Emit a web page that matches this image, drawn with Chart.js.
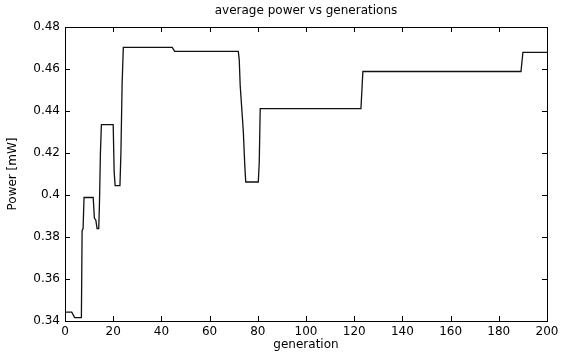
<!DOCTYPE html>
<html>
<head>
<meta charset="utf-8">
<title>average power vs generations</title>
<script src="https://cdn.jsdelivr.net/npm/chart.js@4.4.1/dist/chart.umd.min.js"></script>
<style>
  html, body { margin: 0; padding: 0; background: #fff; }
  #wrap { width: 569px; height: 353px; }
</style>
</head>
<body>
<div id="wrap"><canvas id="powerChart"></canvas></div>
<script>
// Datos (generación, potencia media)
const generaciones = [0, 2.8, 4.0, 6.8, 7.1, 7.5, 7.9, 11.7, 12.2, 12.8, 13.3, 14.0, 14.3, 14.7, 15.1,
  20.0, 20.4, 20.8, 22.8, 23.2, 23.7, 24.2, 44.5, 45.5, 71.9, 72.3, 72.7, 73.3, 74.0, 74.6, 75.0,
  80.2, 80.6, 81.0, 122.8, 123.6, 189.2, 190.0, 200];
const potencia = [0.3442, 0.3442, 0.3416, 0.3416, 0.383, 0.384, 0.3988, 0.3988, 0.389, 0.388, 0.384, 0.384, 0.396, 0.420, 0.4335,
  0.4335, 0.411, 0.4045, 0.4045, 0.420, 0.453, 0.4703, 0.4703, 0.4684, 0.4684, 0.4645, 0.452, 0.442, 0.430, 0.414, 0.4062,
  0.4062, 0.4155, 0.4411, 0.4411, 0.4588, 0.4588, 0.4679, 0.4679];

const xTicks = [0, 20, 40, 60, 80, 100, 120, 140, 160, 180, 200];
const yTicks = [0.34, 0.36, 0.38, 0.4, 0.42, 0.44, 0.46, 0.48];
const titulo = 'average power vs generations';

const FONT = { family: '"DejaVu Sans", sans-serif', size: 12 };

// Caja de ejes con marcas hacia dentro y título centrado sobre el área (estilo MATLAB)
const boxPlugin = {
  id: 'boxPlugin',
  afterDraw(chart) {
    const { ctx, chartArea: a, scales } = chart;
    const len = 5;
    ctx.save();
    ctx.strokeStyle = '#000';
    ctx.lineWidth = 1;
    ctx.strokeRect(a.left + 0.5, a.top + 0.5, a.right - a.left, a.bottom - a.top);
    ctx.beginPath();
    xTicks.forEach(v => {
      const px = Math.round(scales.x.getPixelForValue(v)) + 0.5;
      ctx.moveTo(px, a.bottom); ctx.lineTo(px, a.bottom - len);
      ctx.moveTo(px, a.top); ctx.lineTo(px, a.top + len);
    });
    yTicks.forEach(v => {
      const py = Math.round(scales.y.getPixelForValue(v)) + 0.5;
      ctx.moveTo(a.left, py); ctx.lineTo(a.left + len, py);
      ctx.moveTo(a.right, py); ctx.lineTo(a.right - len, py);
    });
    ctx.stroke();

    ctx.fillStyle = '#000';
    ctx.font = `${FONT.size}px ${FONT.family}`;
    ctx.textAlign = 'center';
    ctx.textBaseline = 'middle';
    ctx.fillText(titulo, (a.left + a.right) / 2, 11);
    ctx.restore();
  }
};

new Chart(document.getElementById('powerChart'), {
  type: 'scatter',
  data: {
    datasets: [{
      data: generaciones.map((g, i) => ({ x: g, y: potencia[i] })),
      showLine: true,
      borderColor: '#111',
      borderWidth: 1.3,
      pointRadius: 0,
      tension: 0
    }]
  },
  options: {
    responsive: true,
    maintainAspectRatio: false,
    animation: false,
    layout: { padding: { right: 22, top: 27, bottom: 0, left: 0 } },
    plugins: {
      legend: { display: false },
      tooltip: { enabled: false },
      title: { display: false }
    },
    scales: {
      x: {
        type: 'linear',
        min: 0,
        max: 200,
        afterBuildTicks: s => { s.ticks = xTicks.map(v => ({ value: v })); },
        afterFit: s => { s.height = 32; },
        grid: { display: false, drawTicks: false },
        border: { display: false },
        ticks: { color: '#000', font: FONT, padding: 4, maxRotation: 0, callback: v => String(v) },
        title: { display: true, text: 'generation', color: '#000', font: FONT, padding: { top: 0, bottom: 1 } }
      },
      y: {
        type: 'linear',
        min: 0.34,
        max: 0.48,
        afterBuildTicks: s => { s.ticks = yTicks.map(v => ({ value: v })); },
        afterFit: s => { s.width = 65; },
        grid: { display: false, drawTicks: false },
        border: { display: false },
        ticks: { color: '#000', font: FONT, padding: 5, callback: v => String(+v.toFixed(2)) },
        title: { display: true, text: 'Power [mW]', color: '#000', font: FONT, padding: { top: 6, bottom: 0 } }
      }
    }
  },
  plugins: [boxPlugin]
});
</script>
</body>
</html>
